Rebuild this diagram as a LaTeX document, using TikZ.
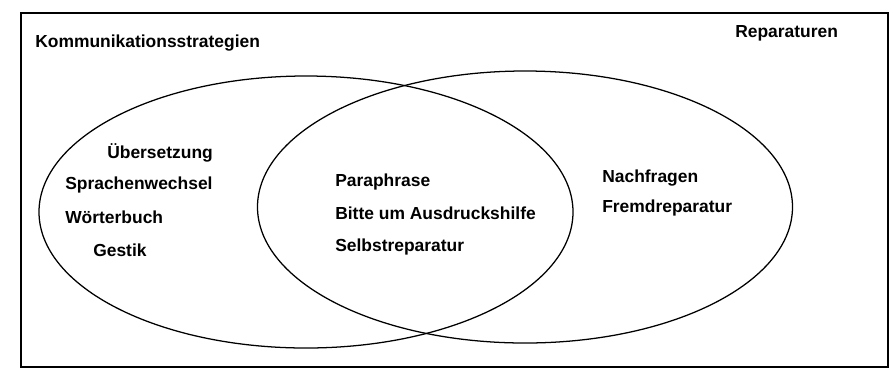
\documentclass[tikz,border=0pt]{standalone}
\usepackage{fontspec}
\setmainfont{Liberation Sans}
\usetikzlibrary{shapes.geometric}

\begin{document}
\begin{tikzpicture}[
  frame/.style={draw=black, line width=1.2pt},
  set/.style={draw=black, ellipse, line width=0.9pt, minimum width=13.35cm, minimum height=6.8cm},
  lbl/.style={anchor=west, inner sep=0pt, font=\fontsize{12.4}{14}\selectfont\bfseries},
]
\useasboundingbox (0,0) rectangle (22.35,-9.225);

\node[frame, minimum width=21.675cm, minimum height=8.85cm, anchor=north west] (box) at (0.5,-0.3) {};

\node[set] (ks) at (7.65,-5.3) {};
\node[set, minimum width=13.375cm] (rep) at (13.125,-5.175) {};

\node[lbl] (kstitle) at (0.875,-1.075) {Kommunikationsstrategien};
\node[lbl] (reptitle) at (18.375,-0.825) {Reparaturen};

\node[lbl] (ueb) at (2.675,-3.825) {Übersetzung};
\node[lbl] (spw) at (1.625,-4.625) {Sprachenwechsel};
\node[lbl] (wb) at (1.625,-5.425) {Wörterbuch};
\node[lbl] (ges) at (2.325,-6.25) {Gestik};

\node[lbl] (para) at (8.375,-4.55) {Paraphrase};
\node[lbl] (bitte) at (8.375,-5.325) {Bitte um Ausdruckshilfe};
\node[lbl] (selbst) at (8.375,-6.175) {Selbstreparatur};

\node[lbl] (nach) at (15.05,-4.45) {Nachfragen};
\node[lbl] (fremd) at (15.05,-5.2) {Fremdreparatur};

\end{tikzpicture}
\end{document}
